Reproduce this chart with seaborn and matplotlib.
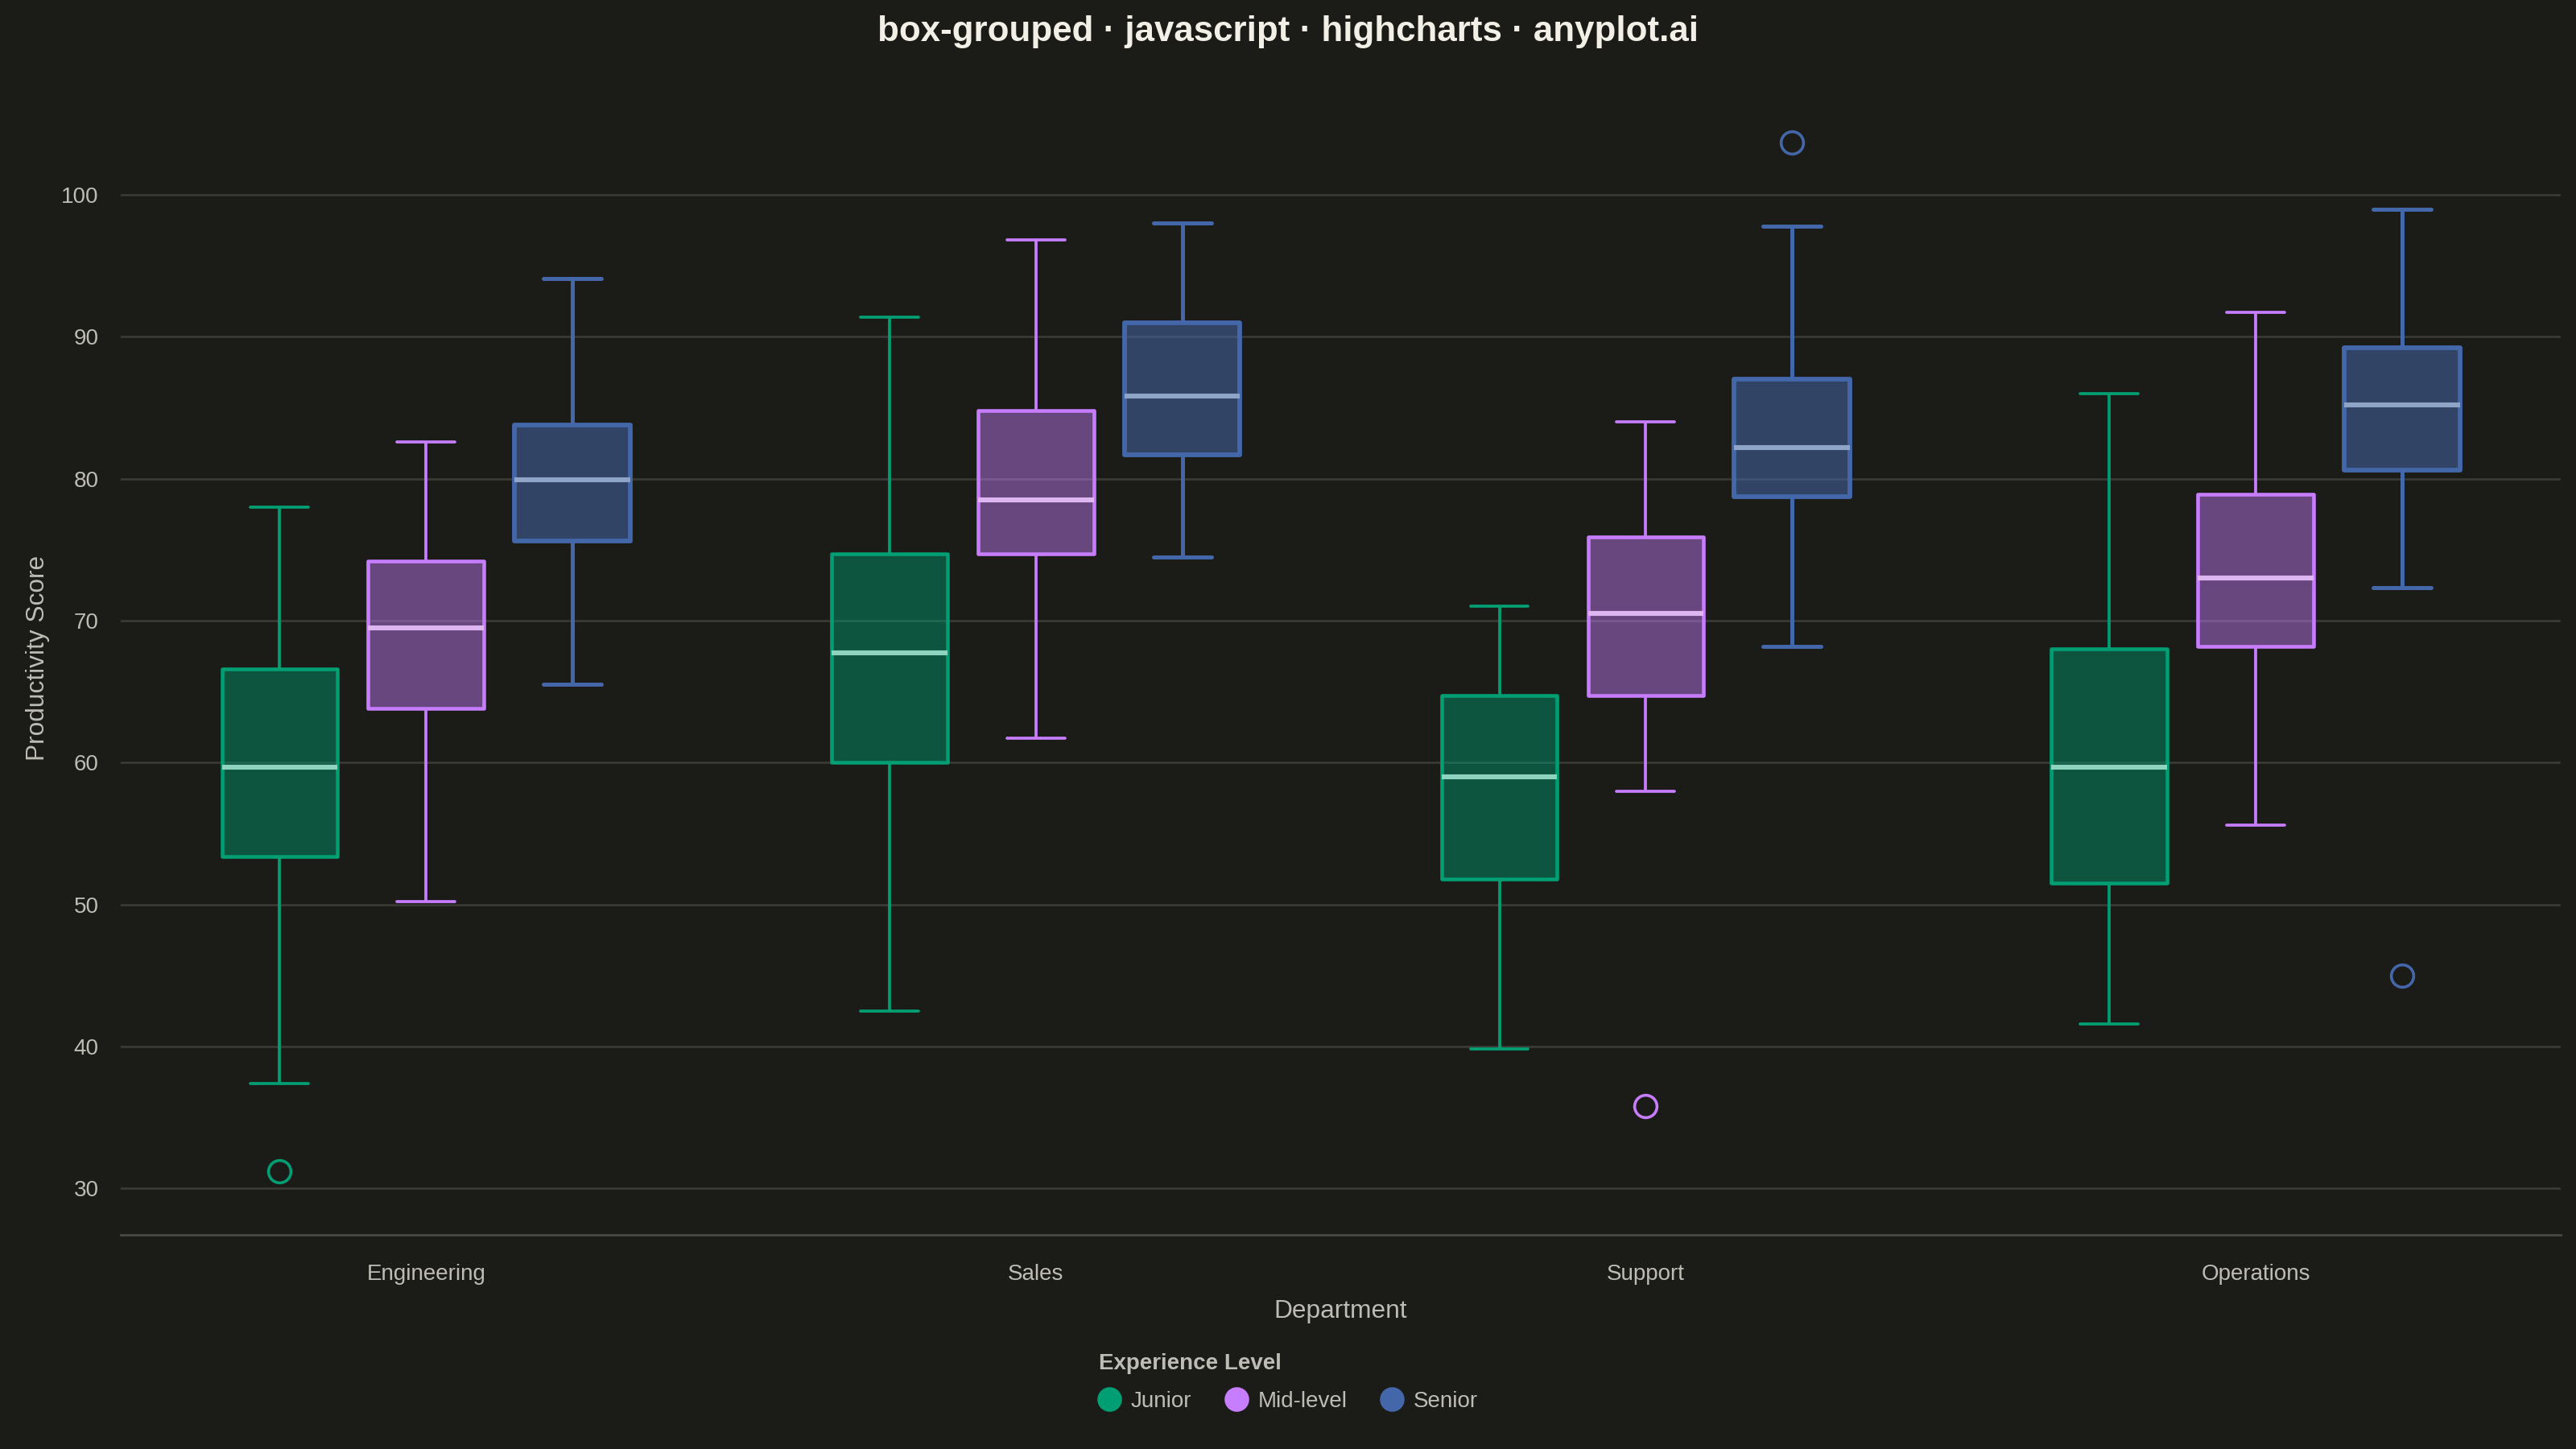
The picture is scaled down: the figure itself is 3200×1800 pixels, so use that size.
import numpy as np
import pandas as pd
import matplotlib.pyplot as plt
from matplotlib.colors import to_rgba
from matplotlib.lines import Line2D
import seaborn as sns

# categories
departments = ['Engineering', 'Sales', 'Support', 'Operations']
levels = ['Junior', 'Mid-level', 'Senior']

# five number summaries per level, one value per department
junior_low = [37.4, 42.5, 39.8, 41.6]
junior_q1 = [53.4, 60.0, 51.8, 51.5]
junior_med = [59.7, 67.7, 59.0, 59.7]
junior_q3 = [66.6, 74.7, 64.7, 68.0]
junior_high = [78.0, 91.4, 71.0, 86.0]

mid_low = [50.2, 61.7, 58.0, 55.6]
mid_q1 = [63.8, 74.7, 64.7, 68.2]
mid_med = [69.5, 78.5, 70.5, 73.0]
mid_q3 = [74.2, 84.8, 75.9, 78.9]
mid_high = [82.6, 96.8, 84.0, 91.7]

senior_low = [65.5, 74.5, 68.2, 72.3]
senior_q1 = [75.6, 81.7, 78.7, 80.6]
senior_med = [79.9, 85.8, 82.2, 85.2]
senior_q3 = [83.8, 91.0, 87.0, 89.2]
senior_high = [94.1, 98.0, 97.8, 99.0]

# outliers
outlier_dept = ['Engineering', 'Support', 'Support', 'Operations']
outlier_level = ['Junior', 'Mid-level', 'Senior', 'Senior']
outlier_value = [31.2, 35.8, 103.7, 45.0]

colors = {'Junior': '#009E73', 'Mid-level': '#C77DFF', 'Senior': '#4467A9'}
median_colors = {'Junior': '#8DD3BD', 'Mid-level': '#DDB6F2', 'Senior': '#8EA5C8'}
fill_alpha = {'Junior': 0.45, 'Mid-level': 0.45, 'Senior': 0.55}
line_w = {'Junior': 1.35, 'Mid-level': 1.35, 'Senior': 1.8}

bg = '#1B1B17'
grid_c = '#3A3A35'
text_c = '#BDBDB5'

sns.set_theme(style='dark')
plt.rcParams['font.family'] = ['Liberation Sans', 'DejaVu Sans']

# long table: the summary values of each group as its rows
stats = {
    'Junior': [junior_low, junior_q1, junior_med, junior_q3, junior_high],
    'Mid-level': [mid_low, mid_q1, mid_med, mid_q3, mid_high],
    'Senior': [senior_low, senior_q1, senior_med, senior_q3, senior_high],
}
rows = []
for lvl in levels:
    for i, dept in enumerate(departments):
        for s in stats[lvl]:
            rows.append((dept, lvl, s[i]))
box_df = pd.DataFrame(rows, columns=['Department', 'Level', 'Score'])
out_df = pd.DataFrame({'Department': outlier_dept, 'Level': outlier_level, 'Score': outlier_value})

fig, ax = plt.subplots(figsize=(16, 9), dpi=200)
fig.patch.set_facecolor(bg)
ax.set_facecolor(bg)
fig.subplots_adjust(left=0.047, right=0.994, bottom=0.148, top=0.944)

for lvl in levels:
    c = colors[lvl]
    lw = line_w[lvl]
    sns.boxplot(data=box_df[box_df['Level'] == lvl], x='Department', y='Score', hue='Level',
                order=departments, hue_order=levels, palette=colors, saturation=1,
                dodge=True, width=0.72, gap=0.21, whis=(0, 100), linecolor=c, linewidth=lw,
                boxprops=dict(facecolor=to_rgba(c, fill_alpha[lvl]), edgecolor=c,
                              linewidth=lw + 0.3, joinstyle='round'),
                medianprops=dict(color=median_colors[lvl], linewidth=2.2),
                legend=False, ax=ax)

sns.pointplot(data=out_df, x='Department', y='Score', hue='Level', order=departments,
              hue_order=levels, palette=colors, dodge=0.48, linestyle='none', errorbar=None,
              markers='o', markersize=10, markeredgewidth=1.3, markerfacecolor='none',
              legend=False, ax=ax)

ax.set_xlim(-0.5, 3.5)
ax.set_ylim(26.75, 108)
ax.set_yticks(np.arange(30, 101, 10))
ax.grid(axis='y', color=grid_c, linewidth=1.0)
ax.grid(axis='x', visible=False)
for side in ['top', 'right', 'left']:
    ax.spines[side].set_visible(False)
ax.spines['bottom'].set_color('#4A4A44')
ax.spines['bottom'].set_linewidth(1.0)
ax.tick_params(axis='x', length=0, pad=13, labelsize=10, labelcolor=text_c)
ax.tick_params(axis='y', length=0, pad=10, labelsize=10, labelcolor=text_c)
ax.set_xlabel('Department', fontsize=11.4, color=text_c, labelpad=6.5)
ax.set_ylabel('Productivity Score', fontsize=11.4, color=text_c, labelpad=5)

fig.suptitle('box-grouped · javascript · highcharts · anyplot.ai', y=0.978, va='center',
             fontsize=15.8, fontweight='bold', color='#F2F0E6')

handles = [Line2D([], [], marker='o', linestyle='none', markersize=10,
                  markerfacecolor=colors[l], markeredgecolor=colors[l]) for l in levels]
leg = fig.legend(handles, levels, loc='center', bbox_to_anchor=(0.5, 0.046), ncol=3,
                 frameon=False, title='Experience Level', alignment='left',
                 title_fontproperties={'weight': 'bold', 'size': 10},
                 fontsize=10, handlelength=1.0, handletextpad=0.45, columnspacing=1.5,
                 labelspacing=0.75)
leg.get_title().set_color(text_c)
for t in leg.get_texts():
    t.set_color(text_c)

plt.savefig('out.png', dpi=200, facecolor=bg)
